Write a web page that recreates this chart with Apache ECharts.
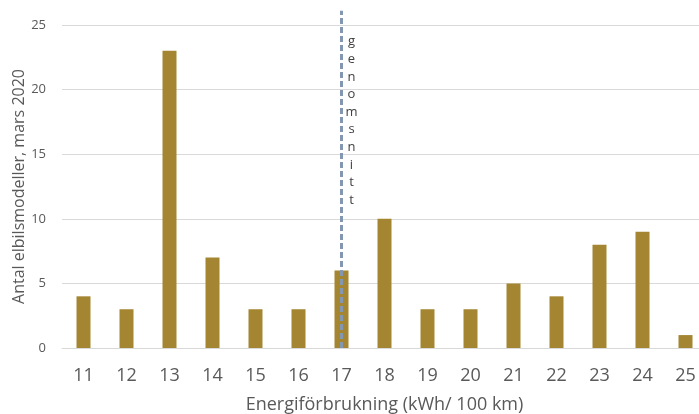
<!DOCTYPE html>
<html>
<head>
<meta charset="utf-8">
<script src="https://cdn.jsdelivr.net/npm/echarts@6/dist/echarts.min.js"></script>
<style>
html,body{margin:0;padding:0;background:#fff;}
#chart{width:699px;height:414px;}
</style>
</head>
<body>
<div id="chart"></div>
<script>
// Energy use per 100 km (categories) and number of EV models in each class
const categories = ['11','12','13','14','15','16','17','18','19','20','21','22','23','24','25'];
const modelCounts = [4, 3, 23, 7, 3, 3, 6, 10, 3, 3, 5, 4, 8, 9, 1];
const yTicks = [0, 5, 10, 15, 20, 25];
// Average consumption marker
const averageCategory = '17';
const averageLabel = 'genomsnitt';
const averageLineTop = 26.1;

const FONT = '"Open Sans", "Liberation Sans", sans-serif';
const chart = echarts.init(document.getElementById('chart'), null, {renderer: 'canvas'});

chart.setOption({
  animation: false,
  backgroundColor: '#ffffff',
  grid: {left: 62, right: -8, top: 25, bottom: 66, containLabel: false, outerBoundsMode: 'none'},
  xAxis: {
    type: 'category',
    data: categories,
    name: 'Energiförbrukning (kWh/ 100 km)',
    nameLocation: 'middle',
    nameMoveOverlap: false,
    nameGap: 48,
    nameTextStyle: {fontFamily: FONT, fontSize: 18, color: '#595959'},
    axisLine: {show: true, lineStyle: {color: '#d9d9d9', width: 1}},
    axisTick: {show: false},
    axisLabel: {fontFamily: FONT, fontSize: 18, color: '#595959', margin: 19}
  },
  yAxis: {
    type: 'value',
    min: yTicks[0],
    max: yTicks[yTicks.length - 1],
    interval: yTicks[1] - yTicks[0],
    name: 'Antal elbilsmodeller, mars 2020',
    nameLocation: 'middle',
    nameMoveOverlap: false,
    nameGap: 35,
    nameTextStyle: {fontFamily: FONT, fontSize: 16, color: '#595959'},
    axisLine: {show: false},
    axisTick: {show: false},
    axisLabel: {fontFamily: FONT, fontSize: 13, color: '#595959', margin: 16},
    splitLine: {lineStyle: {color: '#d9d9d9', width: 1}}
  },
  series: [{
    type: 'bar',
    data: modelCounts,
    barWidth: 14,
    itemStyle: {color: '#a48531'}
  }]
});

// Dashed average line with its vertically stacked caption
function drawAverage() {
  const x = chart.convertToPixel({xAxisIndex: 0}, averageCategory);
  const yBottom = chart.convertToPixel({yAxisIndex: 0}, 0);
  const yTop = chart.convertToPixel({yAxisIndex: 0}, averageLineTop);
  const letters = averageLabel.split('');
  const step = 17.6;
  const textTop = chart.convertToPixel({yAxisIndex: 0}, 23.7);
  chart.setOption({
    graphic: [
      {
        type: 'line',
        z: 10,
        shape: {x1: x, y1: yBottom, x2: x, y2: yTop},
        style: {stroke: '#8497b0', lineWidth: 3, lineDash: [6, 3]}
      },
      {
        type: 'group',
        z: 10,
        children: letters.map((ch, i) => ({
          type: 'text',
          x: x + 10,
          y: textTop + i * step,
          style: {
            text: ch, fill: '#404040', fontFamily: FONT, fontSize: 13,
            align: 'center', verticalAlign: 'middle'
          }
        }))
      }
    ]
  });
}
drawAverage();
</script>
</body>
</html>
